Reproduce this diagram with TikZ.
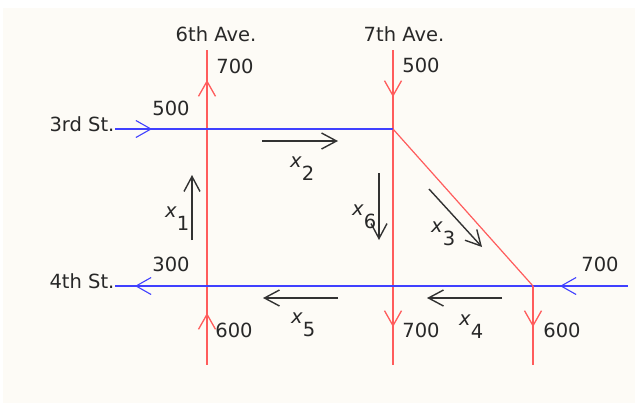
\documentclass[tikz,border=0pt]{standalone}
\usepackage{fontspec}
\setmainfont{DejaVu Sans}
\usetikzlibrary{arrows.meta}
\definecolor{bgcream}{RGB}{253,251,246}
\definecolor{roadred}{RGB}{255,92,92}
\definecolor{roadblue}{RGB}{64,64,255}
\definecolor{flowgray}{RGB}{50,50,50}
\definecolor{txtgray}{RGB}{40,40,40}
\tikzset{
  redroad/.style={draw=roadred, line width=1.6bp},
  blueroad/.style={draw=roadblue, line width=1.3bp},
  redtip/.style={draw=roadred, line width=1.3bp, -{Straight Barb[length=15bp,width=17bp]}},
  bluetip/.style={draw=roadblue, line width=1.1bp, -{Straight Barb[length=15bp,width=17bp]}},
  flow/.style={draw=flowgray, line width=1.4bp, -{Straight Barb[length=15bp,width=16bp]}},
  lbl/.style={inner sep=0pt, text=txtgray, font=\fontsize{19.5bp}{22bp}\selectfont},
}
\newcommand{\xv}[1]{\textit{x}\raisebox{-13bp}{#1}}
\begin{document}
\begin{tikzpicture}[x=1bp,y=-1bp]
\useasboundingbox (0,0) rectangle (635,403);
\fill[white] (0,0) rectangle (635,403);
\fill[bgcream] (3,8) rectangle (635,403);

% intersections and ends
\coordinate (s6top) at (207,50);
\coordinate (s6bot) at (207,365);
\coordinate (s7top) at (393,50);
\coordinate (s7bot) at (393,365);
\coordinate (s3w) at (115,129);
\coordinate (c37) at (393,129);
\coordinate (s4w) at (115,286);
\coordinate (s4e) at (628,286);
\coordinate (c4d) at (533,286);
\coordinate (sdbot) at (533,365);

% roads
\draw[redroad] (s6top) -- (s6bot);
\draw[redroad] (s7top) -- (s7bot);
\draw[blueroad] (s3w) -- (c37);
\draw[blueroad] (s4w) -- (s4e);
\draw[draw=roadred, line width=1.2bp] (c37) -- (c4d);
\draw[redroad] (c4d) -- (sdbot);

% road direction arrows
\coordinate (a1s) at (207,96);  \coordinate (a1e) at (207,80);
\coordinate (a2s) at (207,330); \coordinate (a2e) at (207,313);
\coordinate (a3s) at (393,80);  \coordinate (a3e) at (393,97);
\coordinate (a4s) at (393,310); \coordinate (a4e) at (393,327);
\coordinate (a5s) at (533,310); \coordinate (a5e) at (533,327);
\draw[redtip] (a1s) -- (a1e);
\draw[redtip] (a2s) -- (a2e);
\draw[redtip] (a3s) -- (a3e);
\draw[redtip] (a4s) -- (a4e);
\draw[redtip] (a5s) -- (a5e);
\coordinate (b1s) at (135,129); \coordinate (b1e) at (152,129);
\coordinate (b2s) at (152,286); \coordinate (b2e) at (135,286);
\coordinate (b3s) at (577,286); \coordinate (b3e) at (560,286);
\draw[bluetip] (b1s) -- (b1e);
\draw[bluetip] (b2s) -- (b2e);
\draw[bluetip] (b3s) -- (b3e);

% flow arrows
\coordinate (f1s) at (192,240); \coordinate (f1e) at (192,175);
\coordinate (f2s) at (262,141); \coordinate (f2e) at (338,141);
\coordinate (f6s) at (379,173); \coordinate (f6e) at (379,240);
\coordinate (f3s) at (429,189); \coordinate (f3e) at (482,247);
\coordinate (f5s) at (338,298); \coordinate (f5e) at (263,298);
\coordinate (f4s) at (502,298); \coordinate (f4e) at (427,298);
\draw[flow] (f1s) -- (f1e);
\draw[flow] (f2s) -- (f2e);
\draw[flow] (f6s) -- (f6e);
\draw[flow] (f3s) -- (f3e);
\draw[flow] (f5s) -- (f5e);
\draw[flow] (f4s) -- (f4e);

% labels
\node[lbl] (n6) at (216,34) {6th Ave.};
\node[lbl] (n7) at (404,34) {7th Ave.};
\node[lbl] (n3) at (82,124) {3rd St.};
\node[lbl] (n4) at (82,281) {4th St.};
\node[lbl] (v1) at (235,66) {700};
\node[lbl] (v2) at (421,65) {500};
\node[lbl] (v3) at (171,108) {500};
\node[lbl] (v4) at (171,264) {300};
\node[lbl] (v5) at (234,330) {600};
\node[lbl] (v6) at (421,330) {700};
\node[lbl] (v7) at (562,330) {600};
\node[lbl] (v8) at (600,264) {700};

\node[lbl, anchor=base west] (x1) at (165,217) {\xv{1}};
\node[lbl, anchor=base west] (x2) at (290,167) {\xv{2}};
\node[lbl, anchor=base west] (x6) at (352,215) {\xv{6}};
\node[lbl, anchor=base west] (x3) at (431,232) {\xv{3}};
\node[lbl, anchor=base west] (x5) at (291,323) {\xv{5}};
\node[lbl, anchor=base west] (x4) at (459,325) {\xv{4}};
\end{tikzpicture}
\end{document}
